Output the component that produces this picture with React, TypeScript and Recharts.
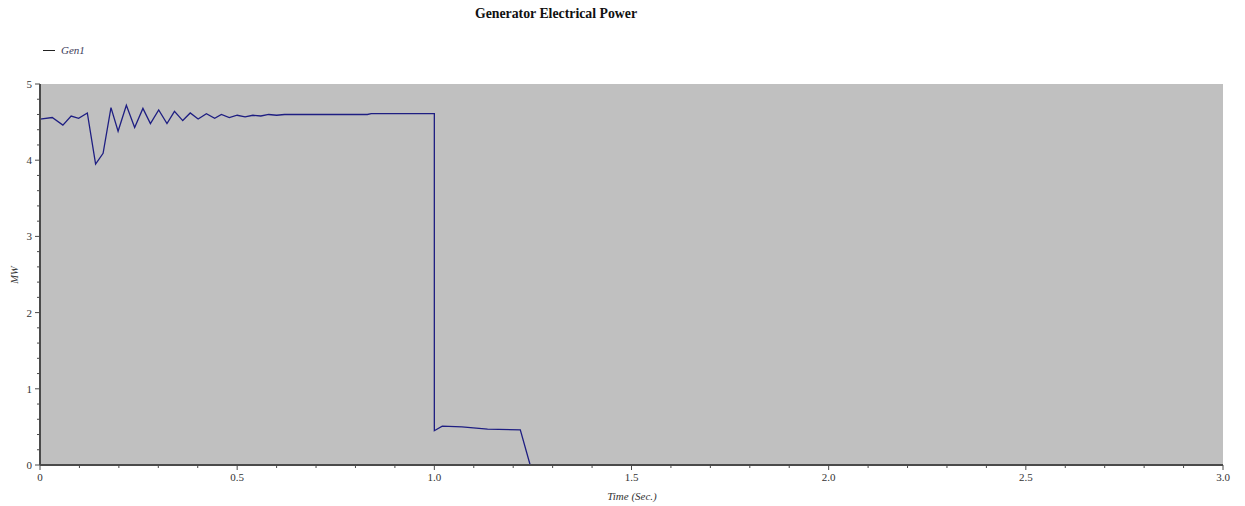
import React from "react";
import { LineChart, Line, XAxis, YAxis, CartesianGrid } from "recharts";

const timeSec = [0, 0.031, 0.058, 0.079, 0.098, 0.12, 0.141, 0.16, 0.18, 0.198, 0.219, 0.24, 0.261, 0.28, 0.301, 0.322, 0.341, 0.362, 0.381, 0.401, 0.422, 0.443, 0.46, 0.48, 0.5, 0.52, 0.54, 0.56, 0.58, 0.6, 0.62, 0.83, 0.84, 1.0, 1.0, 1.02, 1.07, 1.135, 1.218, 1.243];
const gen1MW = [4.54, 4.56, 4.46, 4.58, 4.55, 4.62, 3.95, 4.09, 4.69, 4.38, 4.72, 4.43, 4.68, 4.48, 4.66, 4.48, 4.64, 4.52, 4.62, 4.54, 4.61, 4.55, 4.6, 4.56, 4.59, 4.57, 4.59, 4.58, 4.6, 4.59, 4.6, 4.6, 4.61, 4.61, 0.45, 0.51, 0.5, 0.47, 0.46, 0];

const xTicks = [0, 0.1, 0.2, 0.3, 0.4, 0.5, 0.6, 0.7, 0.8, 0.9, 1.0, 1.1, 1.2, 1.3, 1.4, 1.5, 1.6, 1.7, 1.8, 1.9, 2.0, 2.1, 2.2, 2.3, 2.4, 2.5, 2.6, 2.7, 2.8, 2.9, 3.0];
const yTicks = [0, 0.2, 0.4, 0.6, 0.8, 1, 1.2, 1.4, 1.6, 1.8, 2, 2.2, 2.4, 2.6, 2.8, 3, 3.2, 3.4, 3.6, 3.8, 4, 4.2, 4.4, 4.6, 4.8, 5];

const data = timeSec.map((t, i) => ({ t, p: gen1MW[i] }));

const FONT = "'Liberation Serif', 'DejaVu Serif', serif";
const AXIS = "#4a4a4a";

const isMult = (v: number, step: number) => Math.abs(v / step - Math.round(v / step)) < 1e-6;

const XTick = (props: any) => {
  const { x, y, payload } = props;
  const v = payload.value as number;
  const major = isMult(v, 0.5);
  return (
    <g>
      <line x1={x} y1={y} x2={x} y2={y + (major ? 5 : 3)} stroke={AXIS} strokeWidth={1} />
      {major && (
        <text x={x} y={y + 16} textAnchor="middle" fontFamily={FONT} fontSize={11} fill="#333">
          {v === 0 ? "0" : v.toFixed(1)}
        </text>
      )}
    </g>
  );
};

const YTick = (props: any) => {
  const { x, y, payload } = props;
  const v = payload.value as number;
  const major = isMult(v, 1);
  return (
    <g>
      <line x1={x} y1={y} x2={x - (major ? 5 : 3)} y2={y} stroke={AXIS} strokeWidth={1} />
      {major && (
        <text x={x - 8} y={y + 4} textAnchor="end" fontFamily={FONT} fontSize={11} fill="#333">
          {String(Math.round(v))}
        </text>
      )}
    </g>
  );
};

export default function App() {
  return (
    <div style={{ position: "absolute", left: 0, top: 0, width: 1245, height: 506, background: "#fff" }}>
      <div style={{ position: "absolute", left: 556, top: 6, transform: "translateX(-50%)", whiteSpace: "nowrap", fontFamily: FONT, fontWeight: "bold", fontSize: 13.8, color: "#111" }}>
        Generator Electrical Power
      </div>
      <div style={{ position: "absolute", left: 43, top: 44, display: "flex", alignItems: "center", fontFamily: FONT, fontStyle: "italic", fontSize: 11, color: "#3c3c5a" }}>
        <span style={{ display: "inline-block", width: 12, height: 0, borderTop: "1.5px solid #222", marginRight: 6 }} />
        Gen1
      </div>
      <div style={{ position: "absolute", left: 14, top: 275, transform: "translate(-50%, -50%) rotate(-90deg)", fontFamily: FONT, fontStyle: "italic", fontSize: 10.5, color: "#333" }}>
        MW
      </div>
      <div style={{ position: "absolute", left: 632, top: 490, transform: "translateX(-50%)", fontFamily: FONT, fontStyle: "italic", fontSize: 11, color: "#333", whiteSpace: "nowrap" }}>
        Time (Sec.)
      </div>
      <LineChart width={1245} height={506} data={data} margin={{ top: 84, right: 22, bottom: 0, left: 0 }}>
        <CartesianGrid fill="#c0c0c0" horizontal={false} vertical={false} />
        <XAxis
          dataKey="t"
          type="number"
          domain={[0, 3]}
          ticks={xTicks}
          interval={0}
          height={41}
          tickSize={0}
          tickMargin={0}
          tickLine={false}
          tick={<XTick />}
          axisLine={{ stroke: AXIS, strokeWidth: 2 }}
          allowDataOverflow
        />
        <YAxis
          type="number"
          domain={[0, 5]}
          ticks={yTicks}
          interval={0}
          width={40}
          tickSize={0}
          tickMargin={0}
          tickLine={false}
          tick={<YTick />}
          axisLine={{ stroke: AXIS, strokeWidth: 2 }}
          allowDataOverflow
        />
        <Line type="linear" dataKey="p" stroke="#1e1e82" strokeWidth={1.3} dot={false} isAnimationActive={false} />
      </LineChart>
    </div>
  );
}
